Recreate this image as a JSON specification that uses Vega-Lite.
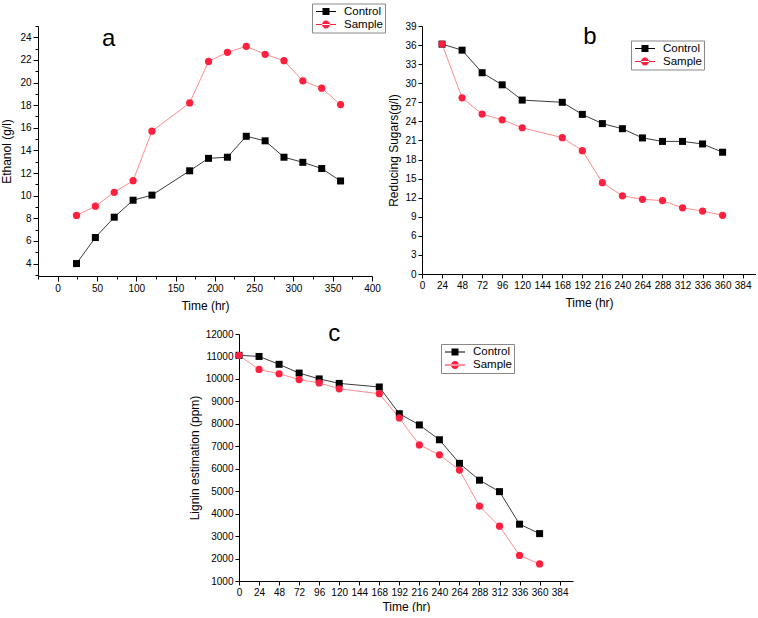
{
  "$schema": "https://vega.github.io/schema/vega-lite/v6.json",
  "padding": {"left": 0, "top": 3, "right": 0, "bottom": 0},
  "background": "white",
  "config": {
    "view": {"stroke": null},
    "axis": {
      "domainColor": "#000", "tickColor": "#000", "labelColor": "#000", "titleColor": "#000",
      "titleFontWeight": "normal", "titleFont": "Liberation Sans", "titleFontSize": 12,
      "labelFont": "Liberation Sans Narrow, Liberation Sans", "labelFontSize": 10,
      "tickSize": 4, "grid": false, "labelOverlap": false, "labelFlush": false, "tickCount": 200
    },
    "legend": {
      "title": null, "padding": 2, "rowPadding": 1, "symbolOffset": 6, "labelOffset": 12,
      "labelFontSize": 11.5, "labelFont": "Liberation Sans", "labelColor": "#000",
      "strokeColor": "#888", "fillColor": "#fff", "symbolSize": 144, "symbolOpacity": 1, "symbolStrokeWidth": 0
    }
  },
  "datasets": {
    "ethanol": [
      {"t": 24, "series": "Control", "value": 4.0},
      {"t": 48, "series": "Control", "value": 6.3},
      {"t": 72, "series": "Control", "value": 8.1},
      {"t": 96, "series": "Control", "value": 9.6},
      {"t": 120, "series": "Control", "value": 10.05},
      {"t": 168, "series": "Control", "value": 12.2},
      {"t": 192, "series": "Control", "value": 13.3},
      {"t": 216, "series": "Control", "value": 13.4},
      {"t": 240, "series": "Control", "value": 15.25},
      {"t": 264, "series": "Control", "value": 14.85},
      {"t": 288, "series": "Control", "value": 13.4},
      {"t": 312, "series": "Control", "value": 12.95},
      {"t": 336, "series": "Control", "value": 12.4},
      {"t": 360, "series": "Control", "value": 11.3},
      {"t": 24, "series": "Sample", "value": 8.25},
      {"t": 48, "series": "Sample", "value": 9.07},
      {"t": 72, "series": "Sample", "value": 10.3},
      {"t": 96, "series": "Sample", "value": 11.33},
      {"t": 120, "series": "Sample", "value": 15.7},
      {"t": 168, "series": "Sample", "value": 18.2},
      {"t": 192, "series": "Sample", "value": 21.87},
      {"t": 216, "series": "Sample", "value": 22.67},
      {"t": 240, "series": "Sample", "value": 23.2},
      {"t": 264, "series": "Sample", "value": 22.5},
      {"t": 288, "series": "Sample", "value": 21.93},
      {"t": 312, "series": "Sample", "value": 20.15},
      {"t": 336, "series": "Sample", "value": 19.5},
      {"t": 360, "series": "Sample", "value": 18.05}
    ],
    "sugars": [
      {"t": 24, "series": "Control", "value": 36.15},
      {"t": 48, "series": "Control", "value": 35.2},
      {"t": 72, "series": "Control", "value": 31.65},
      {"t": 96, "series": "Control", "value": 29.75},
      {"t": 120, "series": "Control", "value": 27.35},
      {"t": 168, "series": "Control", "value": 27.0},
      {"t": 192, "series": "Control", "value": 25.1},
      {"t": 216, "series": "Control", "value": 23.65},
      {"t": 240, "series": "Control", "value": 22.85},
      {"t": 264, "series": "Control", "value": 21.4},
      {"t": 288, "series": "Control", "value": 20.85},
      {"t": 312, "series": "Control", "value": 20.85},
      {"t": 336, "series": "Control", "value": 20.45},
      {"t": 360, "series": "Control", "value": 19.15},
      {"t": 24, "series": "Sample", "value": 36.15},
      {"t": 48, "series": "Sample", "value": 27.7},
      {"t": 72, "series": "Sample", "value": 25.15},
      {"t": 96, "series": "Sample", "value": 24.25},
      {"t": 120, "series": "Sample", "value": 23.0},
      {"t": 168, "series": "Sample", "value": 21.43},
      {"t": 192, "series": "Sample", "value": 19.4},
      {"t": 216, "series": "Sample", "value": 14.36},
      {"t": 240, "series": "Sample", "value": 12.3},
      {"t": 264, "series": "Sample", "value": 11.75},
      {"t": 288, "series": "Sample", "value": 11.55},
      {"t": 312, "series": "Sample", "value": 10.4},
      {"t": 336, "series": "Sample", "value": 9.9},
      {"t": 360, "series": "Sample", "value": 9.22}
    ],
    "lignin": [
      {"t": 0, "series": "Control", "value": 11050},
      {"t": 24, "series": "Control", "value": 11000},
      {"t": 48, "series": "Control", "value": 10650},
      {"t": 72, "series": "Control", "value": 10260},
      {"t": 96, "series": "Control", "value": 10000},
      {"t": 120, "series": "Control", "value": 9800},
      {"t": 168, "series": "Control", "value": 9640},
      {"t": 192, "series": "Control", "value": 8450},
      {"t": 216, "series": "Control", "value": 7950},
      {"t": 240, "series": "Control", "value": 7290},
      {"t": 264, "series": "Control", "value": 6240},
      {"t": 288, "series": "Control", "value": 5490},
      {"t": 312, "series": "Control", "value": 4980},
      {"t": 336, "series": "Control", "value": 3530},
      {"t": 360, "series": "Control", "value": 3110},
      {"t": 0, "series": "Sample", "value": 11050},
      {"t": 24, "series": "Sample", "value": 10420},
      {"t": 48, "series": "Sample", "value": 10230},
      {"t": 72, "series": "Sample", "value": 9970},
      {"t": 96, "series": "Sample", "value": 9820},
      {"t": 120, "series": "Sample", "value": 9560},
      {"t": 168, "series": "Sample", "value": 9340},
      {"t": 192, "series": "Sample", "value": 8260},
      {"t": 216, "series": "Sample", "value": 7060},
      {"t": 240, "series": "Sample", "value": 6620},
      {"t": 264, "series": "Sample", "value": 5940},
      {"t": 288, "series": "Sample", "value": 4330},
      {"t": 312, "series": "Sample", "value": 3440},
      {"t": 336, "series": "Sample", "value": 2140},
      {"t": 360, "series": "Sample", "value": 1760}
    ]
  },
  "spacing": 11,
  "center": false,
  "resolve": {"scale": {"color": "independent", "shape": "independent"}, "legend": {"color": "independent", "shape": "independent"}},
  "vconcat": [
    {
      "spacing": 1,
      "resolve": {"scale": {"color": "independent", "shape": "independent"}, "legend": {"color": "independent", "shape": "independent"}},
      "hconcat": [
        {
          "width": 334, "height": 250,
          "data": {"name": "ethanol"},
          "layer": [
            {
              "transform": [{"filter": "datum.series === 'Control'"}],
              "mark": {"type": "line", "strokeWidth": 1, "color": "#3c3c3c"},
              "encoding": {
                "x": {"field": "t", "type": "quantitative", "scale": {"domain": [-25, 400], "nice": false, "zero": false},
                      "axis": {"title": "Time (hr)", "titlePadding": 7, "format": "d", "labelOverlap": false, "tickCount": 200, "values": [-25, 0, 25, 50, 75, 100, 125, 150, 175, 200, 225, 250, 275, 300, 325, 350, 375, 400],
                               "labelExpr": "datum.value % 50 === 0 && datum.value >= 0 ? datum.label : ''",
                               "tickSize": {"condition": {"test": "datum.value % 50 === 0", "value": 5}, "value": 3}}},
                "y": {"field": "value", "type": "quantitative", "scale": {"domain": [2.9, 25], "nice": false, "zero": false},
                      "axis": {"title": "Ethanol (g/l)", "format": "d", "labelOverlap": false, "tickCount": 200, "titlePadding": 6, "values": [3, 4, 5, 6, 7, 8, 9, 10, 11, 12, 13, 14, 15, 16, 17, 18, 19, 20, 21, 22, 23, 24, 25],
                               "labelExpr": "datum.value % 2 === 0 ? datum.label : ''",
                               "tickSize": {"condition": {"test": "datum.value % 2 === 0", "value": 5}, "value": 3}}}
              }
            },
            {
              "transform": [{"filter": "datum.series === 'Sample'"}],
              "mark": {"type": "line", "strokeWidth": 1, "color": "#ff8c8c"},
              "encoding": {"x": {"field": "t", "type": "quantitative"}, "y": {"field": "value", "type": "quantitative"}}
            },
            {
              "transform": [{"filter": "datum.series === 'Control'"}],
              "mark": {"type": "point", "shape": "square", "filled": true, "color": "#000000", "size": 49, "opacity": 1},
              "encoding": {"x": {"field": "t", "type": "quantitative"}, "y": {"field": "value", "type": "quantitative"}}
            },
            {
              "transform": [{"filter": "datum.series === 'Sample'"}],
              "mark": {"type": "point", "shape": "circle", "filled": true, "color": "#ff1f3f", "size": 52, "opacity": 1},
              "encoding": {"x": {"field": "t", "type": "quantitative"}, "y": {"field": "value", "type": "quantitative"}}
            },
            {
              "mark": {"type": "point", "filled": true, "opacity": 0.001, "size": 144},
              "encoding": {
                "x": {"field": "t", "type": "quantitative"}, "y": {"field": "value", "type": "quantitative"},
                "color": {"field": "series", "type": "nominal", "scale": {"domain": ["Control", "Sample"], "range": ["#000000", "#ff1f3f"]},
                          "legend": {"orient": "none", "legendX": 274, "legendY": -22.5}},
                "shape": {"field": "series", "type": "nominal", "scale": {"domain": ["Control", "Sample"], "range": ["M-1.667,-0.083H1.667V0.083H-1.667Z M-0.583,-0.583H0.583V0.583H-0.583Z", "M-1.667,-0.083H1.667V0.083H-1.667Z M-0.667,0A0.667,0.667,0,1,0,0.667,0A0.667,0.667,0,1,0,-0.667,0Z"]},
                          "legend": {"orient": "none", "legendX": 274, "legendY": -22.5}}
              }
            },
            {
              "data": {"values": [{"label": "a"}]},
              "mark": {"type": "text", "fontSize": 24, "font": "Liberation Sans", "align": "center", "baseline": "middle", "color": "#000"},
              "encoding": {"x": {"datum": 65, "type": "quantitative"}, "y": {"datum": 23.85, "type": "quantitative"}, "text": {"field": "label"}}
            }
          ]
        },
        {
          "width": 334, "height": 248,
          "data": {"name": "sugars"},
          "layer": [
            {
              "transform": [{"filter": "datum.series === 'Control'"}],
              "mark": {"type": "line", "strokeWidth": 1, "color": "#3c3c3c"},
              "encoding": {
                "x": {"field": "t", "type": "quantitative", "scale": {"domain": [0, 400], "nice": false, "zero": false},
                      "axis": {"title": "Time (hr)", "titlePadding": 7, "format": "d", "labelOverlap": false, "tickCount": 200, "values": [0, 24, 48, 72, 96, 120, 144, 168, 192, 216, 240, 264, 288, 312, 336, 360, 384]}},
                "y": {"field": "value", "type": "quantitative", "scale": {"domain": [0, 39], "nice": false, "zero": false},
                      "axis": {"title": "Reducing Sugars(g/l)", "format": "d", "labelOverlap": false, "tickCount": 200, "titlePadding": 4, "values": [0, 3, 6, 9, 12, 15, 18, 21, 24, 27, 30, 33, 36, 39]}}
              }
            },
            {
              "transform": [{"filter": "datum.series === 'Sample'"}],
              "mark": {"type": "line", "strokeWidth": 1, "color": "#ff8c8c"},
              "encoding": {"x": {"field": "t", "type": "quantitative"}, "y": {"field": "value", "type": "quantitative"}}
            },
            {
              "transform": [{"filter": "datum.series === 'Control'"}],
              "mark": {"type": "point", "shape": "square", "filled": true, "color": "#000000", "size": 49, "opacity": 1},
              "encoding": {"x": {"field": "t", "type": "quantitative"}, "y": {"field": "value", "type": "quantitative"}}
            },
            {
              "transform": [{"filter": "datum.series === 'Sample'"}],
              "mark": {"type": "point", "shape": "circle", "filled": true, "color": "#ff1f3f", "size": 52, "opacity": 1},
              "encoding": {"x": {"field": "t", "type": "quantitative"}, "y": {"field": "value", "type": "quantitative"}}
            },
            {
              "mark": {"type": "point", "filled": true, "opacity": 0.001, "size": 144},
              "encoding": {
                "x": {"field": "t", "type": "quantitative"}, "y": {"field": "value", "type": "quantitative"},
                "color": {"field": "series", "type": "nominal", "scale": {"domain": ["Control", "Sample"], "range": ["#000000", "#ff1f3f"]},
                          "legend": {"orient": "none", "legendX": 209, "legendY": 14.5}},
                "shape": {"field": "series", "type": "nominal", "scale": {"domain": ["Control", "Sample"], "range": ["M-1.667,-0.083H1.667V0.083H-1.667Z M-0.583,-0.583H0.583V0.583H-0.583Z", "M-1.667,-0.083H1.667V0.083H-1.667Z M-0.667,0A0.667,0.667,0,1,0,0.667,0A0.667,0.667,0,1,0,-0.667,0Z"]},
                          "legend": {"orient": "none", "legendX": 209, "legendY": 14.5}}
              }
            },
            {
              "data": {"values": [{"label": "b"}]},
              "mark": {"type": "text", "fontSize": 24, "font": "Liberation Sans", "align": "center", "baseline": "middle", "color": "#000"},
              "encoding": {"x": {"datum": 201, "type": "quantitative"}, "y": {"datum": 37.3, "type": "quantitative"}, "text": {"field": "label"}}
            }
          ]
        }
      ]
    },
    {
      "spacing": 0,
      "resolve": {"scale": {"color": "independent", "shape": "independent"}, "legend": {"color": "independent", "shape": "independent"}},
      "hconcat": [
        {
          "width": 150, "height": 10,
          "data": {"values": [{}]},
          "mark": {"type": "point", "opacity": 0},
          "encoding": {}
        },
        {
          "width": 334, "height": 247,
          "data": {"name": "lignin"},
          "layer": [
            {
              "transform": [{"filter": "datum.series === 'Control'"}],
              "mark": {"type": "line", "strokeWidth": 1, "color": "#3c3c3c"},
              "encoding": {
                "x": {"field": "t", "type": "quantitative", "scale": {"domain": [0, 400], "nice": false, "zero": false},
                      "axis": {"title": "Time (hr)", "format": "d", "labelOverlap": false, "tickCount": 200, "values": [0, 24, 48, 72, 96, 120, 144, 168, 192, 216, 240, 264, 288, 312, 336, 360, 384]}},
                "y": {"field": "value", "type": "quantitative", "scale": {"domain": [1000, 12000], "nice": false, "zero": false},
                      "axis": {"title": "Lignin estimation (ppm)", "labelOverlap": false, "tickCount": 200, "titlePadding": 4, "format": "d", "values": [1000, 2000, 3000, 4000, 5000, 6000, 7000, 8000, 9000, 10000, 11000, 12000]}}
              }
            },
            {
              "transform": [{"filter": "datum.series === 'Sample'"}],
              "mark": {"type": "line", "strokeWidth": 1, "color": "#ff8c8c"},
              "encoding": {"x": {"field": "t", "type": "quantitative"}, "y": {"field": "value", "type": "quantitative"}}
            },
            {
              "transform": [{"filter": "datum.series === 'Control'"}],
              "mark": {"type": "point", "shape": "square", "filled": true, "color": "#000000", "size": 49, "opacity": 1},
              "encoding": {"x": {"field": "t", "type": "quantitative"}, "y": {"field": "value", "type": "quantitative"}}
            },
            {
              "transform": [{"filter": "datum.series === 'Sample'"}],
              "mark": {"type": "point", "shape": "circle", "filled": true, "color": "#ff1f3f", "size": 52, "opacity": 1},
              "encoding": {"x": {"field": "t", "type": "quantitative"}, "y": {"field": "value", "type": "quantitative"}}
            },
            {
              "mark": {"type": "point", "filled": true, "opacity": 0.001, "size": 144},
              "encoding": {
                "x": {"field": "t", "type": "quantitative"}, "y": {"field": "value", "type": "quantitative"},
                "color": {"field": "series", "type": "nominal", "scale": {"domain": ["Control", "Sample"], "range": ["#000000", "#ff1f3f"]},
                          "legend": {"orient": "none", "legendX": 202, "legendY": 10}},
                "shape": {"field": "series", "type": "nominal", "scale": {"domain": ["Control", "Sample"], "range": ["M-1.667,-0.083H1.667V0.083H-1.667Z M-0.583,-0.583H0.583V0.583H-0.583Z", "M-1.667,-0.083H1.667V0.083H-1.667Z M-0.667,0A0.667,0.667,0,1,0,0.667,0A0.667,0.667,0,1,0,-0.667,0Z"]},
                          "legend": {"orient": "none", "legendX": 202, "legendY": 10}}
              }
            },
            {
              "data": {"values": [{"label": "c"}]},
              "mark": {"type": "text", "fontSize": 24, "font": "Liberation Sans", "align": "center", "baseline": "middle", "color": "#000"},
              "encoding": {"x": {"datum": 114, "type": "quantitative"}, "y": {"datum": 11990, "type": "quantitative"}, "text": {"field": "label"}}
            }
          ]
        }
      ]
    }
  ]
}
